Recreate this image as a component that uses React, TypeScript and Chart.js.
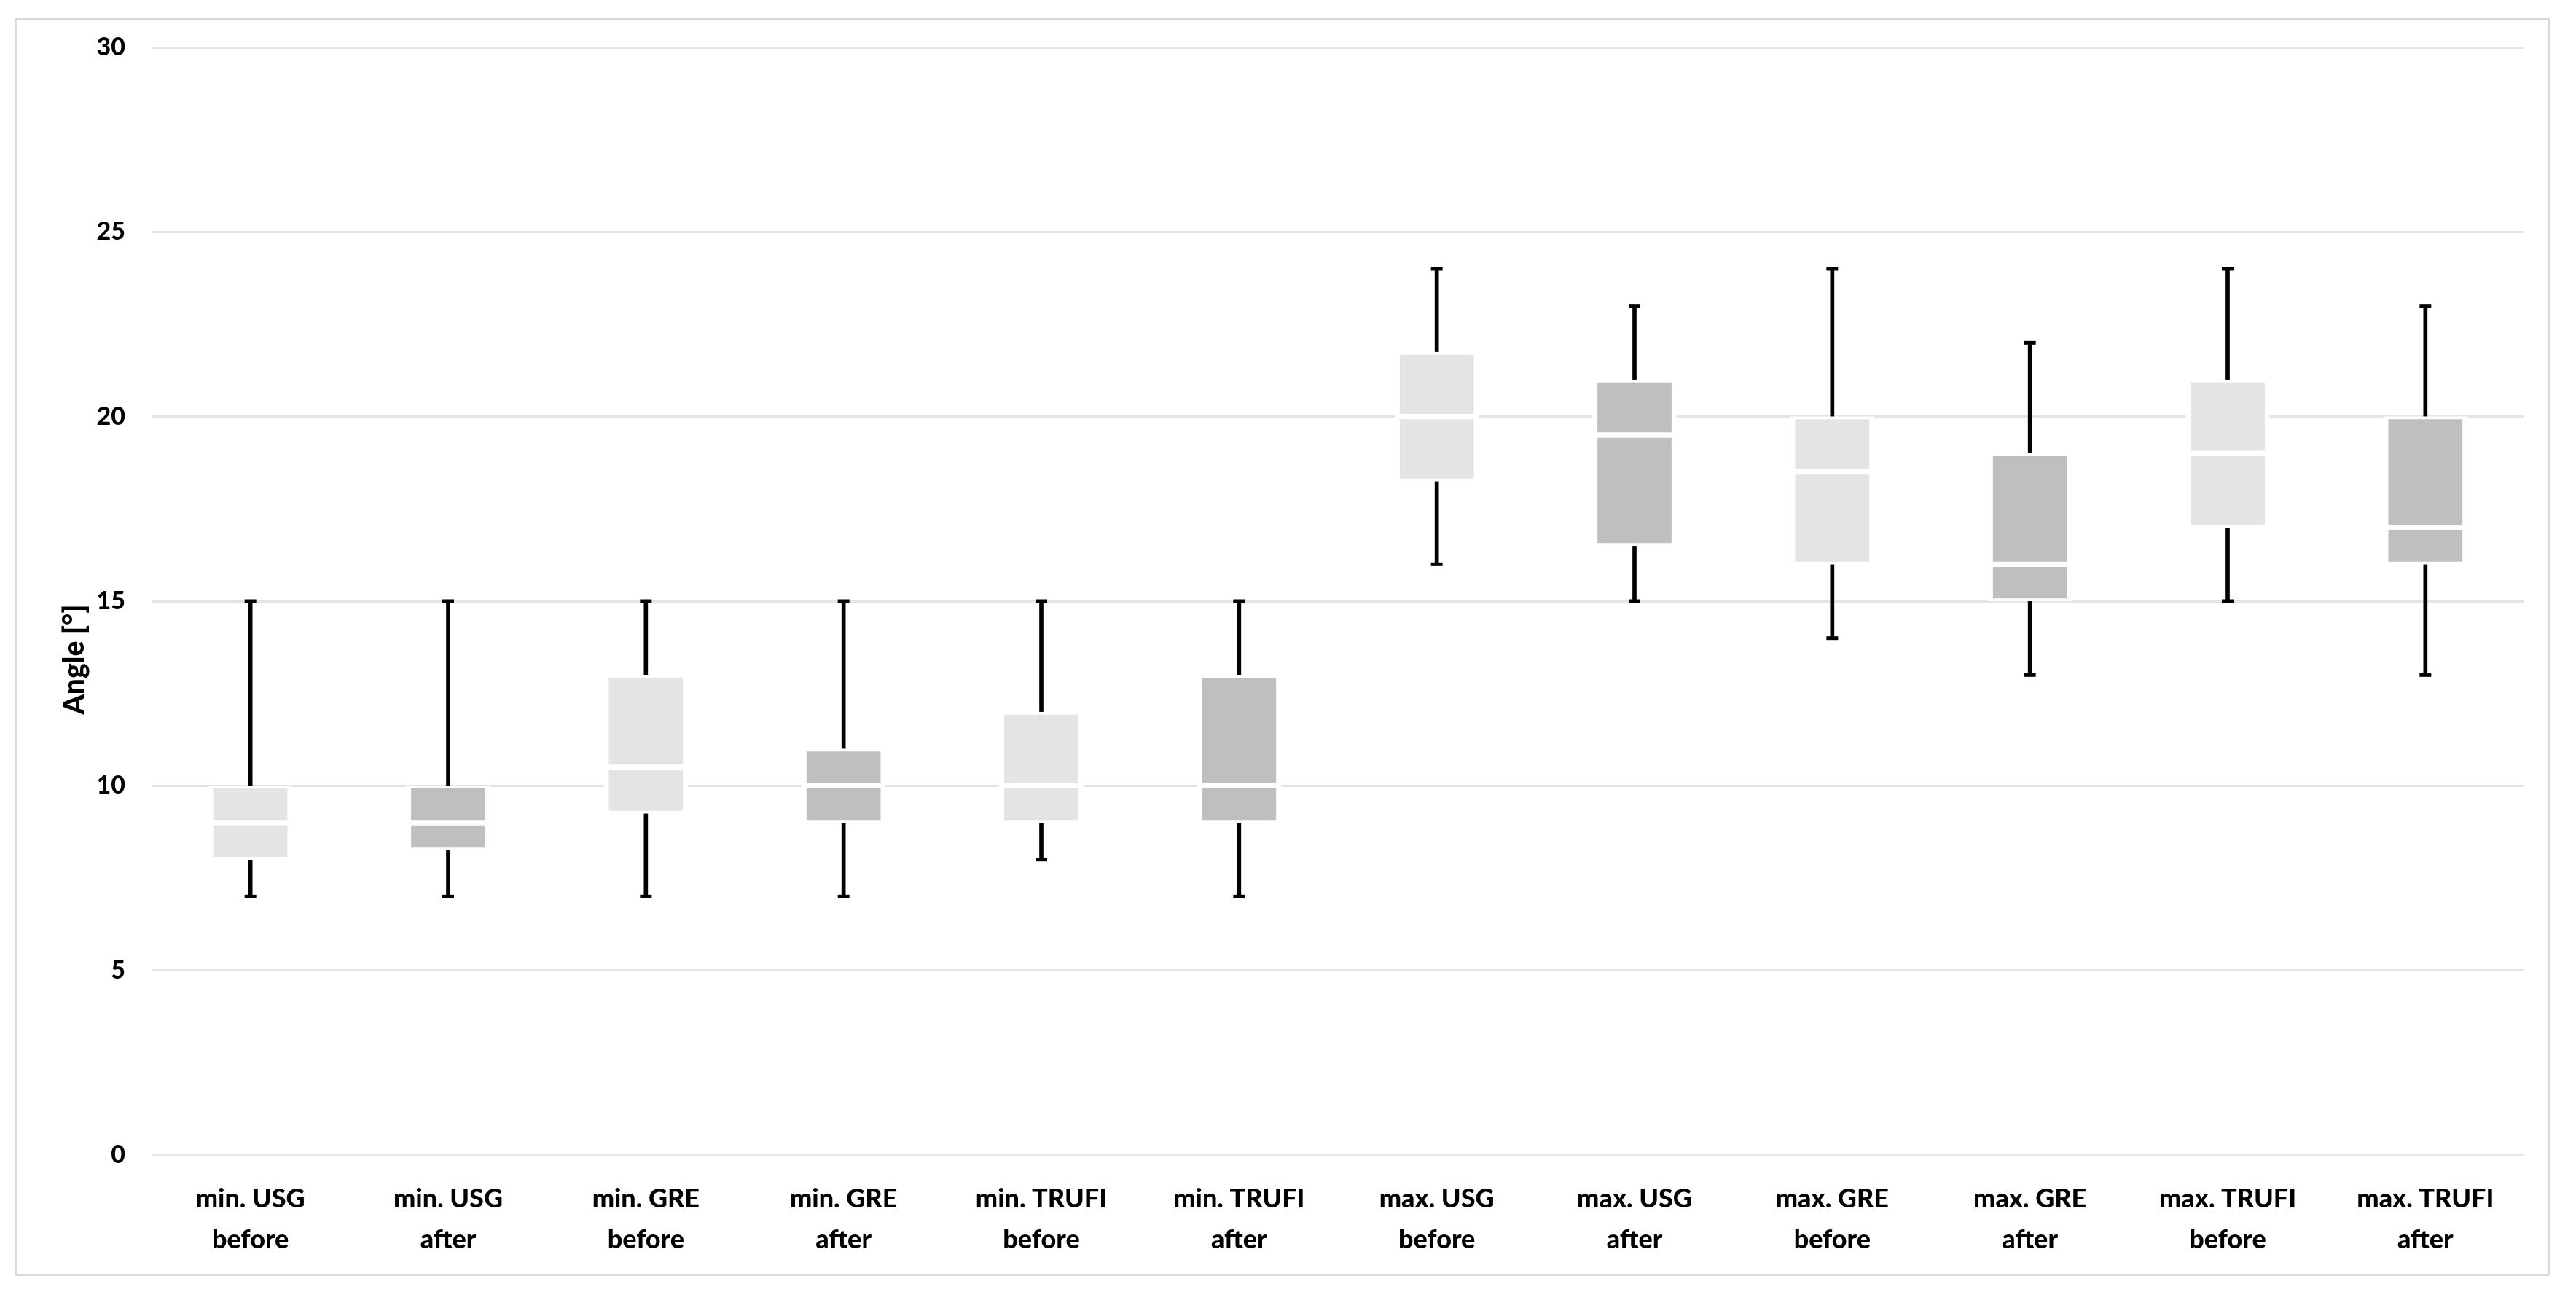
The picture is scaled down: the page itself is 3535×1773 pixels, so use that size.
import React, { useEffect, useRef } from 'react';
import { Chart, registerables } from 'chart.js';

Chart.register(...registerables);

// ---- data ----
const categories: string[][] = [
  ['min. USG', 'before'],
  ['min. USG', 'after'],
  ['min. GRE', 'before'],
  ['min. GRE', 'after'],
  ['min. TRUFI', 'before'],
  ['min. TRUFI', 'after'],
  ['max. USG', 'before'],
  ['max. USG', 'after'],
  ['max. GRE', 'before'],
  ['max. GRE', 'after'],
  ['max. TRUFI', 'before'],
  ['max. TRUFI', 'after'],
];
const mins = [7, 7, 7, 7, 8, 7, 16, 15, 14, 13, 15, 13];
const q1s = [8, 8.25, 9.25, 9, 9, 9, 18.25, 16.5, 16, 15, 17, 16];
const medians = [9, 9, 10.5, 10, 10, 10, 20, 19.5, 18.5, 16, 19, 17];
const q3s = [10, 10, 13, 11, 12, 13, 21.75, 21, 20, 19, 21, 20];
const maxs = [15, 15, 15, 15, 15, 15, 24, 23, 24, 22, 24, 23];
const yMin = 0;
const yMax = 30;
const yStep = 5;
const yTitle = 'Angle [°]';

const LIGHT = '#e4e4e4';
const DARK = '#bfbfbf';
const FONT = 'Lato';

const yTitlePlugin = {
  id: 'yTitleCustom',
  afterDraw(chart: any) {
    const { ctx, chartArea } = chart;
    ctx.save();
    ctx.translate(chartArea.left - 106, (chartArea.top + chartArea.bottom) / 2 + 80);
    ctx.rotate(-Math.PI / 2);
    ctx.font = `900 39px ${FONT}`;
    ctx.fillStyle = '#000';
    ctx.textAlign = 'center';
    ctx.textBaseline = 'middle';
    ctx.fillText(yTitle, 0, 0);
    ctx.restore();
  },
};

export default function App() {
  const ref = useRef<HTMLCanvasElement>(null);

  useEffect(() => {
    const canvas = ref.current;
    if (!canvas) return;
    const boxColors = categories.map((c) => (c[1] === 'before' ? LIGHT : DARK));
    const boxCommon = {
      type: 'bar' as const,
      backgroundColor: boxColors,
      borderColor: '#ffffff',
      borderWidth: { top: 4, bottom: 4, left: 7, right: 7 },
      borderSkipped: false,
      barThickness: 115,
      grouped: false,
      order: 1,
    };
    const capCommon = {
      type: 'line' as const,
      showLine: false,
      pointStyle: 'line',
      pointRadius: 8,
      pointHoverRadius: 8,
      pointBorderWidth: 5,
      pointHoverBorderWidth: 5,
      pointBorderColor: '#000',
      borderColor: '#000',
      backgroundColor: '#000',
      order: 2,
    };
    const chart = new Chart(canvas, {
      type: 'bar',
      data: {
        labels: categories,
        datasets: [
          { ...boxCommon, label: 'lower', data: q1s.map((v, i) => [v, medians[i]]) } as any,
          { ...boxCommon, label: 'upper', data: medians.map((v, i) => [v, q3s[i]]) } as any,
          { ...capCommon, label: 'max', data: maxs } as any,
          { ...capCommon, label: 'min', data: mins } as any,
          {
            type: 'bar',
            label: 'whisker',
            data: mins.map((v, i) => [v, maxs[i]]),
            backgroundColor: '#000',
            borderWidth: 0,
            barThickness: 5,
            grouped: false,
            order: 3,
          } as any,
        ],
      },
      options: {
        animation: false,
        responsive: false,
        devicePixelRatio: 1,
        layout: { padding: { top: 65, right: 71, bottom: 0, left: 0 } },
        plugins: {
          legend: { display: false },
          tooltip: { enabled: false },
          title: { display: false },
        },
        scales: {
          x: {
            grid: { display: false },
            border: { display: false },
            ticks: {
              color: '#000',
              font: { family: FONT, weight: 900, size: 36, lineHeight: 56 / 36 },
              padding: 24,
              maxRotation: 0,
              autoSkip: false,
            },
            afterFit: (s: any) => {
              s.height = 188;
            },
          },
          y: {
            min: yMin,
            max: yMax,
            ticks: {
              stepSize: yStep,
              color: '#000',
              font: { family: FONT, weight: 900, size: 34 },
              padding: 36,
            },
            grid: { color: '#e4e4e4', lineWidth: 3, drawTicks: false },
            border: { display: false },
            afterFit: (s: any) => {
              s.width = 208;
            },
          },
        },
      } as any,
      plugins: [yTitlePlugin],
    });
    return () => chart.destroy();
  }, []);

  return (
    <div style={{ position: 'absolute', left: 0, top: 0, width: 3535, height: 1773, background: '#fff' }}>
      <div
        style={{
          position: 'absolute',
          left: 20,
          top: 25,
          width: 3480,
          height: 1726,
          border: '3px solid #d9d9d9',
          boxSizing: 'border-box',
        }}
      />
      <canvas
        ref={ref}
        width={3535}
        height={1773}
        style={{ position: 'absolute', left: 0, top: 0, width: 3535, height: 1773 }}
      />
    </div>
  );
}
